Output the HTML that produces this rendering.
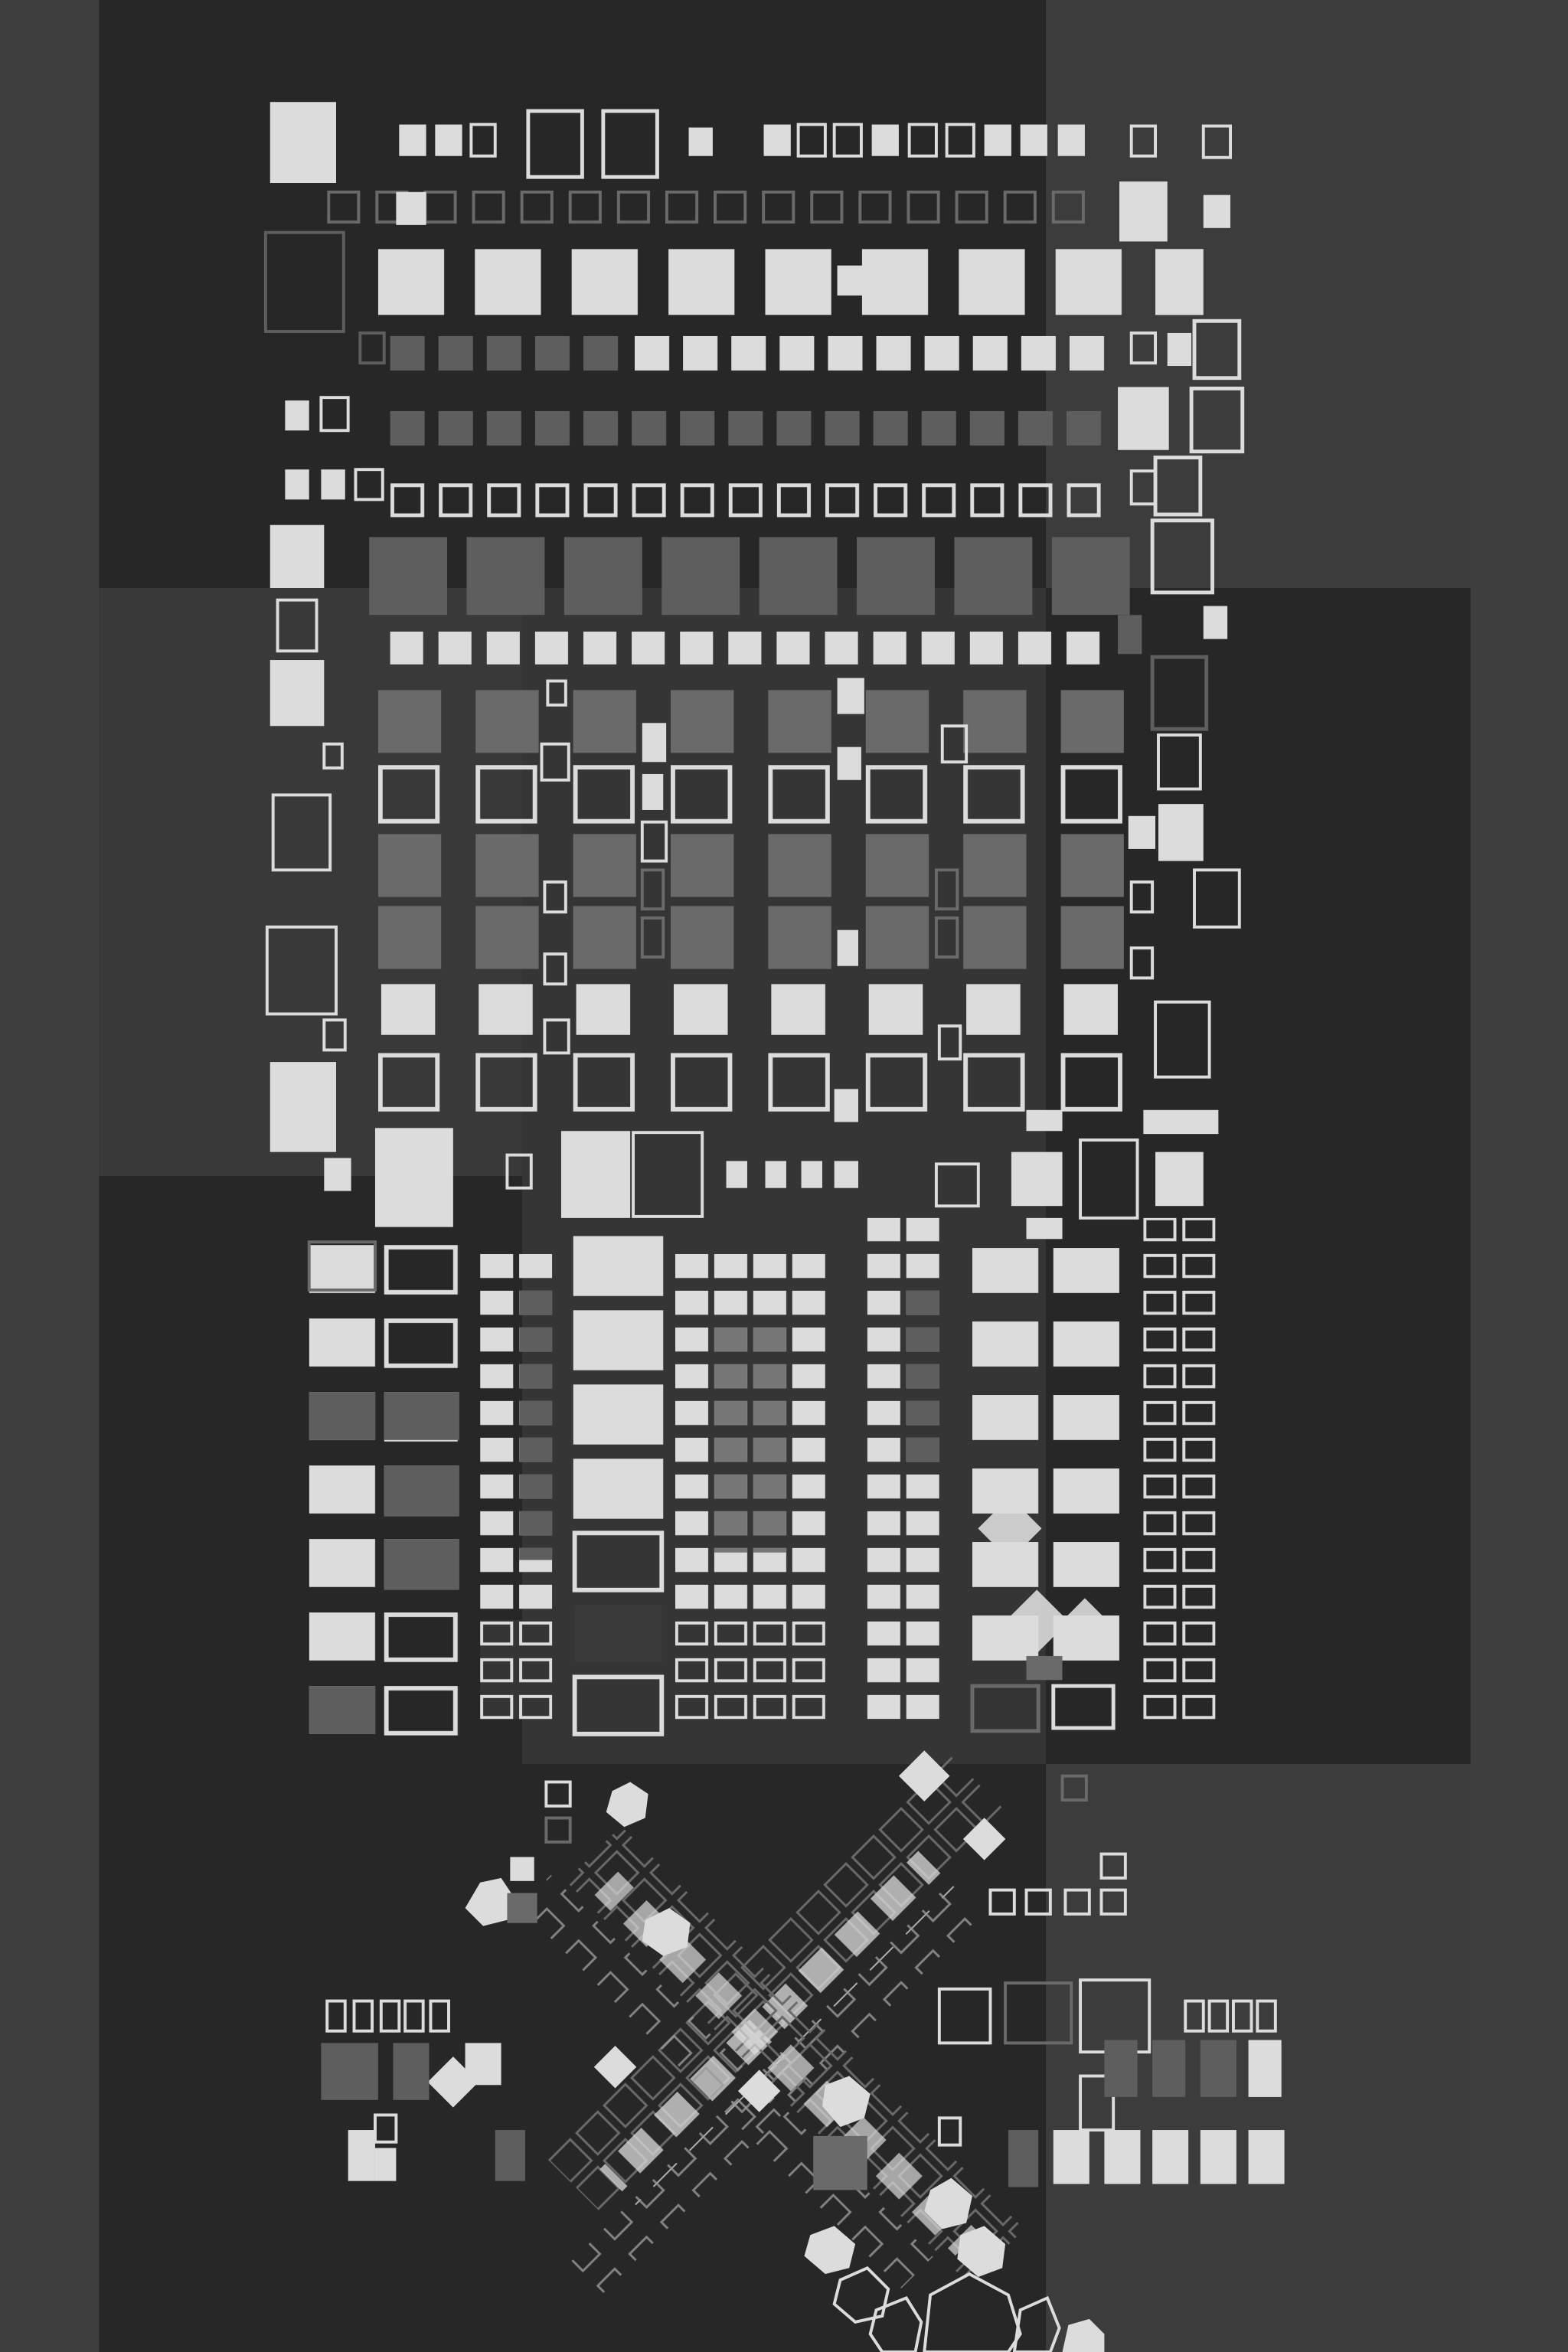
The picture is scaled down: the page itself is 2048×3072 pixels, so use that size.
<!DOCTYPE html>
<html><head><meta charset="utf-8"><style>html,body{margin:0;padding:0;background:#3a3a3a}svg{display:block}</style></head><body>
<svg width="2048" height="3072" viewBox="0 0 1045 1568" preserveAspectRatio="none" xmlns="http://www.w3.org/2000/svg">
<defs>
<pattern id="pB" x="218" y="127" width="32.2" height="30" patternUnits="userSpaceOnUse"><rect x="1" y="1" width="20" height="20" fill="none" stroke="#6a6a6a" stroke-width="2"/></pattern>
<pattern id="pC" x="252" y="166" width="64.5" height="50" patternUnits="userSpaceOnUse"><rect width="44" height="44" fill="#dcdcdc"/></pattern>
<pattern id="pD1" x="260" y="224" width="32.2" height="30" patternUnits="userSpaceOnUse"><rect width="23" height="23" fill="#5e5e5e"/></pattern>
<pattern id="pD2" x="423" y="224" width="32.2" height="30" patternUnits="userSpaceOnUse"><rect width="23" height="23" fill="#dcdcdc"/></pattern>
<pattern id="pE" x="260" y="274" width="32.2" height="30" patternUnits="userSpaceOnUse"><rect width="23" height="23" fill="#5e5e5e"/></pattern>
<pattern id="pF" x="260" y="322" width="32.2" height="30" patternUnits="userSpaceOnUse"><rect x="1.5" y="1.5" width="20" height="20" fill="none" stroke="#dcdcdc" stroke-width="2.5"/></pattern>
<pattern id="pG" x="246" y="358" width="65" height="60" patternUnits="userSpaceOnUse"><rect width="52" height="52" fill="#5e5e5e"/></pattern>
<pattern id="pH" x="260" y="421" width="32.2" height="30" patternUnits="userSpaceOnUse"><rect width="22" height="22" fill="#dcdcdc"/></pattern>
<pattern id="pIg" x="252" y="460" width="65" height="60" patternUnits="userSpaceOnUse"><rect width="42" height="42" fill="#6a6a6a"/></pattern>
<pattern id="pIo" x="252" y="510" width="65" height="60" patternUnits="userSpaceOnUse"><rect x="1.5" y="1.5" width="38" height="36" fill="none" stroke="#dcdcdc" stroke-width="3"/></pattern>
<pattern id="pIl" x="254" y="656" width="65" height="60" patternUnits="userSpaceOnUse"><rect width="36" height="34" fill="#dcdcdc"/></pattern>
<pattern id="pSm" x="0" y="836" width="26" height="24.5" patternUnits="userSpaceOnUse"><rect width="22" height="16" fill="#dcdcdc"/></pattern>
<pattern id="pSmG" x="0" y="836" width="26" height="24.5" patternUnits="userSpaceOnUse"><rect width="22" height="16" fill="#5e5e5e"/></pattern>
<pattern id="pSmO" x="0" y="836" width="26" height="24.5" patternUnits="userSpaceOnUse"><rect x="1" y="1" width="20" height="14" fill="none" stroke="#dcdcdc" stroke-width="2"/></pattern>
<pattern id="pBig" x="382" y="824" width="70" height="49.5" patternUnits="userSpaceOnUse"><rect width="60" height="40" fill="#dcdcdc"/></pattern>
<pattern id="pL1" x="206" y="830" width="50" height="49" patternUnits="userSpaceOnUse"><rect width="44" height="32" fill="#dcdcdc"/></pattern>
<pattern id="pL2" x="256" y="830" width="50" height="49" patternUnits="userSpaceOnUse"><rect x="1.5" y="1.5" width="46" height="30" fill="none" stroke="#dcdcdc" stroke-width="3"/></pattern>
<pattern id="pR" x="648" y="832" width="54" height="49" patternUnits="userSpaceOnUse"><rect width="44" height="30" fill="#dcdcdc"/></pattern>
<pattern id="pDg" x="0" y="0" width="26" height="26" patternUnits="userSpaceOnUse"><rect x="2" y="2" width="20" height="20" fill="none" stroke="#6a6a6a" stroke-width="1.5"/></pattern>
<pattern id="pDl" x="0" y="0" width="34" height="34" patternUnits="userSpaceOnUse"><rect x="3" y="3" width="22" height="22" fill="#dcdcdc"/></pattern>
<pattern id="pDo" x="0" y="0" width="30" height="30" patternUnits="userSpaceOnUse"><rect x="4" y="4" width="16" height="16" fill="none" stroke="#9a9a9a" stroke-width="1.5"/></pattern>
</defs>
<rect width="1045" height="1568" fill="#3e3e3e"/>
<rect x="66" y="0" width="914" height="1568" fill="#3a3a3a"/>
<rect x="66" y="0" width="631" height="392" fill="#272727"/>
<rect x="697" y="0" width="283" height="392" fill="#3c3c3c"/>
<rect x="66" y="392" width="282" height="392" fill="#393939"/>
<rect x="348" y="392" width="349" height="392" fill="#353535"/>
<rect x="697" y="392" width="283" height="392" fill="#272727"/>
<rect x="66" y="784" width="282" height="392" fill="#272727"/>
<rect x="348" y="784" width="349" height="392" fill="#353535"/>
<rect x="697" y="784" width="283" height="392" fill="#272727"/>
<rect x="66" y="1176" width="631" height="392" fill="#272727"/>
<rect x="697" y="1176" width="283" height="392" fill="#3c3c3c"/>

<rect x="180" y="68" width="44" height="54" fill="#dcdcdc"/>
<rect x="266" y="83" width="18" height="21" fill="#dcdcdc"/><rect x="290" y="83" width="18" height="21" fill="#dcdcdc"/>
<rect x="314" y="83" width="16" height="21" fill="none" stroke="#dcdcdc" stroke-width="2"/>
<rect x="352" y="74" width="36" height="44" fill="none" stroke="#dcdcdc" stroke-width="2.5"/>
<rect x="402" y="74" width="36" height="44" fill="none" stroke="#dcdcdc" stroke-width="2.5"/>
<rect x="459" y="85" width="16" height="19" fill="#dcdcdc"/>
<rect x="509" y="83" width="18" height="21" fill="#dcdcdc"/><rect x="532" y="83" width="18" height="21" fill="none" stroke="#dcdcdc" stroke-width="2"/>
<rect x="556" y="83" width="18" height="21" fill="none" stroke="#dcdcdc" stroke-width="2"/><rect x="581" y="83" width="18" height="21" fill="#dcdcdc"/>
<rect x="606" y="83" width="18" height="21" fill="none" stroke="#dcdcdc" stroke-width="2"/><rect x="631" y="83" width="18" height="21" fill="none" stroke="#dcdcdc" stroke-width="2"/>
<rect x="656" y="83" width="18" height="21" fill="#dcdcdc"/><rect x="680" y="83" width="18" height="21" fill="#dcdcdc"/><rect x="705" y="83" width="18" height="21" fill="#dcdcdc"/>
<rect x="754" y="84" width="16" height="20" fill="none" stroke="#dcdcdc" stroke-width="2"/><rect x="802" y="84" width="18" height="21" fill="none" stroke="#dcdcdc" stroke-width="2"/>
<rect x="218" y="127" width="505" height="24" fill="url(#pB)"/>
<rect x="264" y="128" width="20" height="22" fill="#dcdcdc"/>
<rect x="746" y="121" width="32" height="40" fill="#dcdcdc"/><rect x="802" y="130" width="18" height="22" fill="#dcdcdc"/>
<rect x="177" y="155" width="52" height="66" fill="none" stroke="#5e5e5e" stroke-width="2"/>
<rect x="252" y="166" width="500" height="44" fill="url(#pC)"/>
<rect x="558" y="177" width="18" height="20" fill="#dcdcdc"/>
<rect x="770" y="166" width="32" height="44" fill="#dcdcdc"/>
<rect x="240" y="222" width="16" height="20" fill="none" stroke="#5e5e5e" stroke-width="2"/>
<rect x="260" y="224" width="152" height="24" fill="url(#pD1)"/>
<rect x="423" y="224" width="313" height="24" fill="url(#pD2)"/>
<rect x="754" y="222" width="16" height="20" fill="none" stroke="#dcdcdc" stroke-width="2"/><rect x="778" y="222" width="16" height="22" fill="#dcdcdc"/>
<rect x="796" y="214" width="30" height="38" fill="none" stroke="#dcdcdc" stroke-width="2.5"/>
<rect x="190" y="267" width="16" height="20" fill="#dcdcdc"/><rect x="214" y="265" width="18" height="22" fill="none" stroke="#dcdcdc" stroke-width="2"/>
<rect x="260" y="274" width="474" height="24" fill="url(#pE)"/>
<rect x="745" y="258" width="34" height="42" fill="#dcdcdc"/>
<rect x="794" y="259" width="34" height="42" fill="none" stroke="#dcdcdc" stroke-width="2.5"/>
<rect x="190" y="313" width="16" height="20" fill="#dcdcdc"/><rect x="214" y="313" width="16" height="20" fill="#dcdcdc"/><rect x="237" y="313" width="18" height="20" fill="none" stroke="#dcdcdc" stroke-width="2"/>
<rect x="260" y="322" width="474" height="24" fill="url(#pF)"/>
<rect x="754" y="314" width="16" height="22" fill="none" stroke="#dcdcdc" stroke-width="2"/><rect x="770" y="305" width="30" height="38" fill="none" stroke="#dcdcdc" stroke-width="2.5"/>
<rect x="180" y="350" width="36" height="42" fill="#dcdcdc"/>
<rect x="246" y="358" width="507" height="52" fill="url(#pG)"/>
<rect x="768" y="347" width="40" height="48" fill="none" stroke="#dcdcdc" stroke-width="2.5"/>
<rect x="185" y="400" width="26" height="34" fill="none" stroke="#dcdcdc" stroke-width="2"/>
<rect x="745" y="410" width="16" height="26" fill="#5e5e5e"/><rect x="802" y="404" width="16" height="22" fill="#dcdcdc"/>
<rect x="260" y="421" width="473" height="22" fill="url(#pH)"/>
<rect x="180" y="440" width="36" height="44" fill="#dcdcdc"/>
<rect x="768" y="438" width="36" height="48" fill="none" stroke="#5e5e5e" stroke-width="2.5"/>

<rect x="252" y="460" width="497" height="42" fill="url(#pIg)"/>
<rect x="252" y="510" width="497" height="40" fill="url(#pIo)"/>
<g transform="translate(0,96)"><rect x="252" y="460" width="497" height="42" fill="url(#pIg)"/></g>
<g transform="translate(0,144)"><rect x="252" y="460" width="497" height="42" fill="url(#pIg)"/></g>
<rect x="254" y="656" width="491" height="34" fill="url(#pIl)"/>
<g transform="translate(0,192)"><rect x="252" y="510" width="497" height="40" fill="url(#pIo)"/></g>
<g fill="none" stroke="#dcdcdc" stroke-width="2">
<rect x="365" y="454" width="12" height="16"/><rect x="361" y="496" width="18" height="24"/><rect x="363" y="588" width="14" height="20"/><rect x="363" y="636" width="14" height="20"/><rect x="363" y="680" width="16" height="22"/>
<rect x="428" y="548" width="16" height="26"/><rect x="628" y="484" width="16" height="24"/><rect x="626" y="684" width="14" height="22"/>
<rect x="216" y="496" width="12" height="16"/><rect x="182" y="530" width="38" height="50"/><rect x="178" y="618" width="46" height="58"/><rect x="216" y="680" width="14" height="20"/>
<rect x="754" y="588" width="14" height="20"/><rect x="754" y="632" width="14" height="20"/><rect x="796" y="580" width="30" height="38"/><rect x="772" y="490" width="28" height="36"/>
<rect x="770" y="668" width="36" height="50"/><rect x="720" y="760" width="38" height="52"/><rect x="422" y="755" width="46" height="56"/>
<rect x="338" y="770" width="16" height="22"/><rect x="624" y="776" width="28" height="28"/>
</g>
<g fill="none" stroke="#6a6a6a" stroke-width="2"><rect x="428" y="580" width="14" height="26"/><rect x="428" y="612" width="14" height="26"/><rect x="624" y="580" width="14" height="26"/><rect x="624" y="612" width="14" height="26"/></g>
<g fill="#dcdcdc">
<rect x="428" y="482" width="16" height="26"/><rect x="428" y="516" width="14" height="24"/><rect x="558" y="452" width="18" height="24"/><rect x="558" y="498" width="16" height="22"/><rect x="558" y="620" width="14" height="24"/>
<rect x="556" y="726" width="16" height="22"/><rect x="752" y="544" width="18" height="22"/><rect x="772" y="536" width="30" height="38"/>
<rect x="180" y="708" width="44" height="60"/><rect x="216" y="772" width="18" height="22"/>
<rect x="250" y="752" width="52" height="66"/><rect x="374" y="754" width="46" height="58"/>
<rect x="684" y="740" width="24" height="14"/><rect x="762" y="740" width="50" height="16"/>
<rect x="510" y="774" width="14" height="18"/><rect x="534" y="774" width="14" height="18"/><rect x="556" y="774" width="16" height="18"/><rect x="484" y="774" width="14" height="18"/>
<rect x="674" y="768" width="34" height="36"/><rect x="770" y="768" width="32" height="36"/>
</g>

<rect x="206" y="830" width="50" height="326" fill="url(#pL1)"/>
<rect x="256" y="830" width="50" height="327" fill="url(#pL2)"/>
<rect x="206" y="828" width="44" height="32" fill="none" stroke="#6a6a6a" stroke-width="2"/>
<g fill="#5e5e5e"><rect x="206" y="928" width="44" height="32"/><rect x="206" y="1124" width="44" height="32"/><rect x="256" y="928" width="50" height="32"/><rect x="256" y="977" width="50" height="34"/><rect x="256" y="1026" width="50" height="34"/></g>
<g transform="translate(320,0)"><rect x="0" y="836" width="48" height="310" fill="url(#pSm)"/><rect x="26" y="860" width="22" height="180" fill="url(#pSmG)"/><rect x="0" y="1080" width="48" height="66" fill="#353535"/><rect x="0" y="1080" width="48" height="66" fill="url(#pSmO)"/></g>
<rect x="382" y="824" width="62" height="190" fill="url(#pBig)"/>
<rect x="383" y="1022" width="58" height="38" fill="none" stroke="#dcdcdc" stroke-width="3"/>
<rect x="383" y="1070" width="58" height="38" fill="#3a3a3a"/>
<rect x="383" y="1118" width="58" height="38" fill="none" stroke="#dcdcdc" stroke-width="3"/>
<g transform="translate(450,0)"><rect x="0" y="836" width="100" height="310" fill="url(#pSm)"/><rect x="26" y="885" width="48" height="150" fill="url(#pSmG)" opacity="0.8"/><rect x="0" y="1080" width="100" height="66" fill="#353535"/><rect x="0" y="1080" width="100" height="66" fill="url(#pSmO)"/></g>
<g transform="translate(578,0)"><rect x="0" y="812" width="48" height="334" fill="url(#pSm)"/><rect x="26" y="860" width="22" height="120" fill="url(#pSmG)"/></g>
<rect x="648" y="832" width="98" height="278" fill="url(#pR)"/>
<rect x="648" y="1124" width="44" height="30" fill="none" stroke="#6a6a6a" stroke-width="2.5"/>
<rect x="702" y="1124" width="40" height="28" fill="none" stroke="#dcdcdc" stroke-width="2.5"/>
<rect x="684" y="812" width="24" height="14" fill="#dcdcdc"/>
<g transform="translate(762,0)"><rect x="0" y="812" width="48" height="340" fill="url(#pSmO)"/></g>
<g fill="#dcdcdc" opacity="0.9"><rect x="658" y="1004" width="30" height="30" transform="rotate(45 673 1019)"/><rect x="676" y="1066" width="30" height="30" transform="rotate(45 691 1081)"/><rect x="712" y="1070" width="22" height="22" transform="rotate(45 723 1081)"/></g>
<rect x="684" y="1104" width="24" height="16" fill="#6a6a6a"/>

<g transform="rotate(-45 520 1340)">
<rect x="340" y="1300" width="380" height="52" fill="url(#pDg)"/>
<rect x="360" y="1330" width="300" height="34" fill="url(#pDl)" opacity="0.75"/>
<rect x="300" y="1360" width="360" height="30" fill="url(#pDo)" opacity="0.8"/>
</g>
<g transform="rotate(45 520 1380)">
<rect x="330" y="1340" width="380" height="52" fill="url(#pDg)"/>
<rect x="350" y="1360" width="340" height="34" fill="url(#pDl)" opacity="0.7"/>
<rect x="320" y="1396" width="360" height="30" fill="url(#pDo)" opacity="0.8"/>
</g>
<g fill="#dcdcdc">
<polygon points="320,1255 334,1252 342,1264 338,1280 322,1284 310,1272"/>
<polygon points="408,1194 420,1188 432,1196 430,1212 416,1218 404,1208"/>
<polygon points="430,1280 446,1272 460,1282 458,1298 442,1304 428,1294"/>
<polygon points="550,1390 566,1384 580,1396 576,1412 560,1418 548,1404"/>
<polygon points="620,1460 634,1452 648,1464 644,1482 628,1486 616,1474"/>
<polygon points="640,1490 656,1484 670,1496 668,1512 652,1518 638,1506"/>
<polygon points="540,1490 556,1484 570,1496 566,1512 550,1516 536,1504"/>
<polygon points="712,1550 726,1546 736,1556 736,1568 708,1568"/>
<rect x="340" y="1238" width="16" height="16"/>
<rect x="400" y="1368" width="20" height="20" transform="rotate(45 410 1378)"/>
<rect x="290" y="1376" width="24" height="24" transform="rotate(45 302 1388)"/>
<rect x="496" y="1384" width="20" height="20" transform="rotate(45 506 1394)"/>
<rect x="604" y="1172" width="24" height="24" transform="rotate(45 616 1184)"/>
<rect x="646" y="1216" width="20" height="20" transform="rotate(45 656 1226)"/>
</g>
<rect x="338" y="1262" width="20" height="20" fill="#6a6a6a"/>
<rect x="542" y="1424" width="36" height="36" fill="#6a6a6a"/>
<g fill="none" stroke="#dcdcdc" stroke-width="2">
<polygon points="560,1520 578,1512 592,1526 588,1544 570,1548 556,1536"/>
<polygon points="584,1540 604,1532 614,1548 610,1568 588,1568 580,1556"/>
<polygon points="620,1530 646,1516 672,1530 680,1556 672,1568 616,1568"/>
<polygon points="680,1540 698,1532 706,1552 700,1568 676,1568"/>
<rect x="218" y="1334" width="12" height="20"/><rect x="236" y="1334" width="12" height="20"/><rect x="254" y="1334" width="12" height="20"/><rect x="270" y="1334" width="12" height="20"/><rect x="287" y="1334" width="12" height="20"/>
<rect x="626" y="1326" width="34" height="36"/><rect x="670" y="1322" width="44" height="40" stroke="#6a6a6a"/><rect x="720" y="1320" width="46" height="48"/>
<rect x="790" y="1334" width="12" height="20"/><rect x="806" y="1334" width="12" height="20"/><rect x="822" y="1334" width="12" height="20"/><rect x="838" y="1334" width="12" height="20"/>
<rect x="660" y="1260" width="16" height="16"/><rect x="684" y="1260" width="16" height="16"/><rect x="710" y="1260" width="16" height="16"/><rect x="734" y="1260" width="16" height="16"/>
<rect x="734" y="1236" width="16" height="16"/><rect x="364" y="1188" width="16" height="16"/><rect x="364" y="1212" width="16" height="16" stroke="#6a6a6a"/>
<rect x="720" y="1384" width="22" height="36"/><rect x="626" y="1412" width="14" height="18"/><rect x="250" y="1410" width="14" height="18"/>
<rect x="708" y="1184" width="16" height="16" stroke="#6a6a6a"/>
</g>
<g fill="#5e5e5e"><rect x="214" y="1362" width="38" height="38"/><rect x="262" y="1362" width="24" height="38"/><rect x="736" y="1360" width="22" height="38"/><rect x="768" y="1360" width="22" height="38"/><rect x="800" y="1360" width="24" height="38"/><rect x="672" y="1420" width="20" height="38"/><rect x="330" y="1420" width="20" height="34"/></g>
<g fill="#dcdcdc"><rect x="832" y="1360" width="22" height="38"/><rect x="702" y="1420" width="24" height="36"/><rect x="736" y="1420" width="24" height="36"/><rect x="768" y="1420" width="24" height="36"/><rect x="800" y="1420" width="24" height="36"/><rect x="832" y="1420" width="24" height="36"/><rect x="232" y="1420" width="18" height="34"/><rect x="250" y="1432" width="14" height="22"/><rect x="310" y="1362" width="24" height="28"/></g>
</svg>
</body></html>
